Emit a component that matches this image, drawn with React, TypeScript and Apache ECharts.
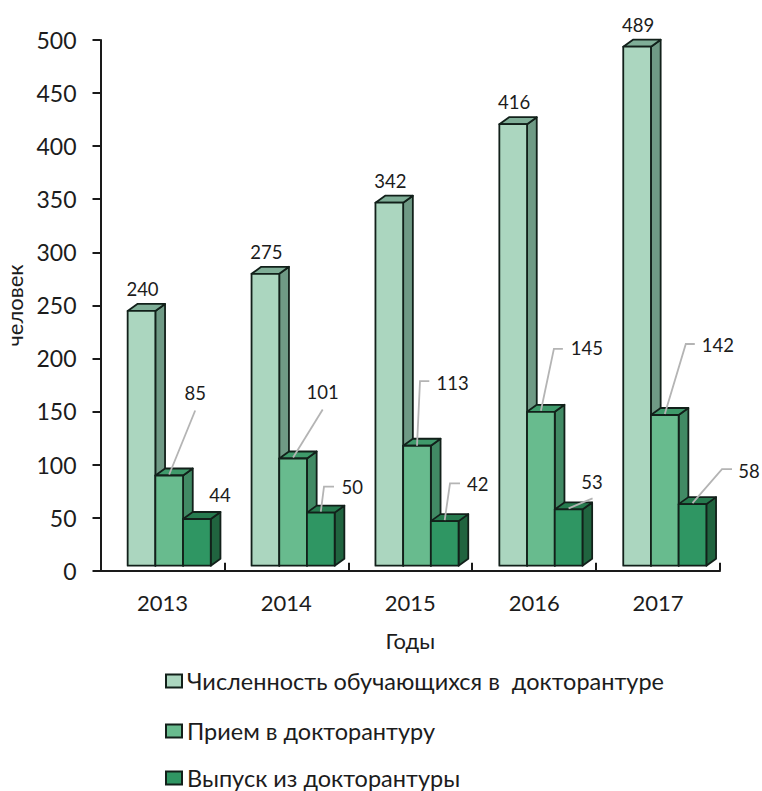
import React, { useEffect, useRef } from "react";
import * as echarts from "echarts";

const categories = ["2013", "2014", "2015", "2016", "2017"];
const studentsName = "Численность обучающихся в  докторантуре";
const admissionName = "Прием в докторантуру";
const graduationName = "Выпуск из докторантуры";
const students = [240, 275, 342, 416, 489];
const admission = [85, 101, 113, 145, 142];
const graduation = [44, 50, 42, 53, 58];
const yTicks = { min: 0, max: 500, interval: 50 };

const FONT = "Lato, 'Open Sans', sans-serif";
const TEXT = "#1c1c1c";
const EDGE = "#12201a";

// Offsets relative to the middle of each bar's top front edge
const admissionLabels = [[26, -82], [29.6, -66], [35.7, -62.9], [46, -63.6], [53, -70]];
const admissionLeaders = [
  [[0, -1], [26, -65]],
  [[0, -1], [29.6, -49]],
  [[0, 0], [3, -64.6], [12.3, -64.6]],
  [[0, -1], [13, -63], [22, -63]],
  [[0, -1], [21, -71], [30, -71]],
];
const graduationLabels = [[23, -24], [31.5, -25.9], [33, -36.7], [23.4, -27.4], [56.5, -33]];
const graduationLeaders: number[][][] = [
  [],
  [[0, -1], [3.2, -26], [13.2, -26]],
  [[0, -1], [5.3, -37.7], [15.3, -37.7]],
  [[0, -1], [24, -11]],
  [[0, -1], [29.5, -35], [39.5, -35]],
];
const studentsLabels = [[1, -22], [1, -22], [1, -22], [1, -22], [1, -22]];

const BAR_W = 27.7;
const CLUSTER_LEFT = -34.8;
const DEPTH_X = 9.7;
const DEPTH_Y = 7;
const BASE_UP = 5;

function makeSeries(
  name: string,
  values: number[],
  slot: number,
  colors: { front: string; top: string; side: string },
  labels: number[][],
  leaders: number[][][],
) {
  return {
    type: "custom",
    name,
    clip: false,
    coordinateSystem: "cartesian2d",
    encode: { x: 0, y: 1 },
    data: categories.map((c, i) => [c, values[i]]),
    itemStyle: { color: colors.front, borderColor: EDGE, borderWidth: 2 },
    renderItem: (params: any, api: any) => {
      const i = params.dataIndex;
      const v = api.value(1);
      const [cx, yTop0] = api.coord([api.value(0), v]);
      const [, y0] = api.coord([api.value(0), 0]);
      const x = cx + CLUSTER_LEFT + slot * BAR_W;
      const top = yTop0 - BASE_UP;
      const base = y0 - BASE_UP;
      const r = x + BAR_W;
      const edge = { stroke: EDGE, lineWidth: 1.8, lineJoin: "round" };
      const mid = x + BAR_W / 2;
      const children: any[] = [
        {
          type: "polygon",
          shape: { points: [[r, top], [r + DEPTH_X, top - DEPTH_Y], [r + DEPTH_X, base - DEPTH_Y], [r, base]] },
          style: { fill: colors.side, ...edge },
        },
        {
          type: "polygon",
          shape: { points: [[x, top], [x + DEPTH_X, top - DEPTH_Y], [r + DEPTH_X, top - DEPTH_Y], [r, top]] },
          style: { fill: colors.top, ...edge },
        },
        {
          type: "rect",
          shape: { x, y: top, width: BAR_W, height: base - top },
          style: { fill: colors.front, ...edge },
        },
      ];
      if (leaders[i] && leaders[i].length) {
        children.push({
          type: "polyline",
          shape: { points: leaders[i].map(([dx, dy]) => [mid + dx, top + dy]) },
          style: { fill: "none", stroke: "#b4b4b4", lineWidth: 1.8 },
        });
      }
      children.push({
        type: "text",
        x: mid + labels[i][0],
        y: top + labels[i][1],
        style: {
          text: String(v),
          fontFamily: FONT,
          fontSize: 18.5,
          fill: TEXT,
          align: "center",
          verticalAlign: "middle",
        },
      });
      return { type: "group", children };
    },
  };
}

const legendItem = (name: string, top: number) => ({
  orient: "vertical",
  left: 165,
  top,
  padding: 0,
  itemWidth: 16,
  itemHeight: 13,
  icon: "rect",
  data: [name],
  textStyle: { fontFamily: FONT, fontSize: 23.5, color: TEXT },
  selectedMode: false,
});

export default function App() {
  const ref = useRef<HTMLDivElement>(null);
  useEffect(() => {
    document.body.style.margin = "0";
    const chart = echarts.init(ref.current!, undefined, { renderer: "svg" });
    chart.setOption({
      animation: false,
      backgroundColor: "#ffffff",
      textStyle: { fontFamily: FONT },
      grid: { left: 100.5, right: 42, top: 40, bottom: 220.3, containLabel: false, outerBoundsMode: "none" },
      legend: [legendItem(studentsName, 669), legendItem(admissionName, 719), legendItem(graduationName, 766)],
      xAxis: {
        type: "category",
        data: categories,
        name: "Годы",
        nameLocation: "middle",
        nameGap: 59,
        nameTextStyle: { fontFamily: FONT, fontSize: 22, color: TEXT },
        axisLine: { lineStyle: { color: "#1a1a1a", width: 2 } },
        axisTick: { show: true, inside: true, length: 8, alignWithLabel: false, lineStyle: { color: "#1a1a1a", width: 2 } },
        axisLabel: { fontFamily: FONT, fontSize: 22, color: TEXT, margin: 21 },
      },
      yAxis: {
        type: "value",
        min: yTicks.min,
        max: yTicks.max,
        interval: yTicks.interval,
        name: "человек",
        nameLocation: "middle",
        nameGap: 74,
        nameRotate: 90,
        nameTextStyle: { fontFamily: FONT, fontSize: 22, color: TEXT },
        splitLine: { show: false },
        axisLine: { show: true, lineStyle: { color: "#1a1a1a", width: 2 } },
        axisTick: { show: true, length: 8, lineStyle: { color: "#1a1a1a", width: 2 } },
        axisLabel: { fontFamily: FONT, fontSize: 23, color: TEXT, margin: 24 },
      },
      series: [
        makeSeries(studentsName, students, 0, { front: "#abd6bf", top: "#7fae97", side: "#6f9a85" }, studentsLabels, []),
        makeSeries(admissionName, admission, 1, { front: "#68bb8e", top: "#3f9a6b", side: "#418a64" }, admissionLabels, admissionLeaders),
        makeSeries(graduationName, graduation, 2, { front: "#2f9663", top: "#267a4e", side: "#20643f" }, graduationLabels, graduationLeaders),
      ],
    });
    return () => chart.dispose();
  }, []);
  return <div ref={ref} style={{ position: "absolute", left: 0, top: 0, width: 762, height: 791 }} />;
}
